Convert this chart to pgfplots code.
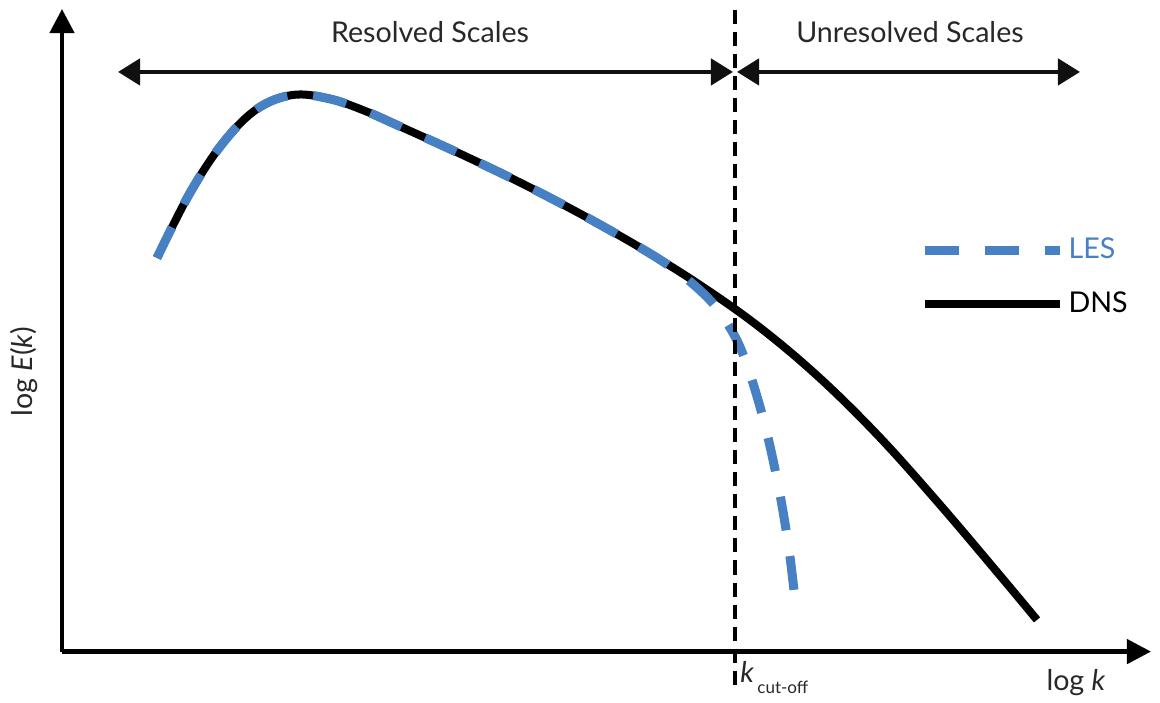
\documentclass[border=0pt]{standalone}
\usepackage{fontspec}
\setmainfont{Lato}
\usepackage{pgfplots}
\pgfplotsset{compat=1.18}
\usetikzlibrary{arrows.meta}
\definecolor{lesblue}{RGB}{72,128,196}
\definecolor{txt}{RGB}{40,40,40}
\begin{document}
\begin{tikzpicture}[font=\fontsize{14.3}{16}\selectfont]
\begin{axis}[
  scale only axis, width=544pt, height=321pt,
  xmin=62, xmax=1151, ymin=-652, ymax=-9,
  axis x line=bottom, axis y line=left,
  axis line style={line width=2.2pt, -{Triangle[width=12pt,length=12pt]}},
  xtick=\empty, ytick=\empty,
  clip=false,
  reverse legend,
  legend style={at={(axis cs:920,-234)}, anchor=north west, draw=none, fill=none,
    row sep=11pt, font=\fontsize{14.3}{16}\selectfont, inner sep=0pt,
    nodes={inner sep=2pt}},
  legend cell align=left,
  legend image code/.code={\draw[#1] (0pt,0pt) -- (67.5pt,0pt);},
]
\path (axis cs:0,-699) rectangle (axis cs:1160,0);
% DNS
\addplot[black, line width=4pt, smooth, tension=0.6] coordinates {
(157,-258) (190,-193) (223,-143) (257,-109) (293,-95) (330,-99) (365,-111)
(400,-126.5) (460,-153.8) (520,-182.6) (580,-213.8) (640,-247.7) (700,-285.2)
(760,-327.8) (820,-378.5) (880,-437.9) (940,-505.1) (1000,-575.9) (1037,-620.3)
};
\addlegendentry{DNS}
% LES
\addplot[lesblue, line width=4.5pt, dash pattern=on 17pt off 13pt, smooth, tension=0.6] coordinates {
(157,-258) (190,-193) (223,-143) (257,-109) (293,-95) (330,-99) (365,-111)
(400,-126.5) (460,-153.8) (520,-182.6) (580,-213.8) (640,-247.7) (672,-268)
(695,-286) (715,-306) (730,-328) (742,-352) (755,-390) (768,-438) (780,-495)
(789,-550) (795,-600)
};
\addlegendentry{\textcolor{lesblue}{LES}}
% cut-off line
\draw[black, line width=1.8pt, dash pattern=on 7pt off 4pt] (axis cs:735,-10) -- (axis cs:735,-690);
% top arrows
\draw[line width=2.2pt, {Triangle[width=13pt,length=11pt]}-{Triangle[width=13pt,length=11pt]}, txt!40!black] (axis cs:118,-72) -- (axis cs:733,-72);
\draw[line width=2.2pt, {Triangle[width=13pt,length=11pt]}-{Triangle[width=13pt,length=11pt]}, txt!40!black] (axis cs:737,-72) -- (axis cs:1080,-72);
\node[txt] at (axis cs:430,-32) {Resolved Scales};
\node[txt] at (axis cs:910,-32) {Unresolved Scales};
\node[txt, rotate=90] at (axis cs:24,-372) {log \textit{E}(\textit{k})};
\node[txt] at (axis cs:1076,-683) {log \textit{k}};
\node[txt, anchor=west, inner sep=0pt] at (axis cs:740,-672) {\textit{k}};
\node[txt, anchor=west, inner sep=0pt, font=\fontsize{8.5}{9}\selectfont] at (axis cs:757,-688) {cut-off};
\end{axis}
\end{tikzpicture}
\end{document}
